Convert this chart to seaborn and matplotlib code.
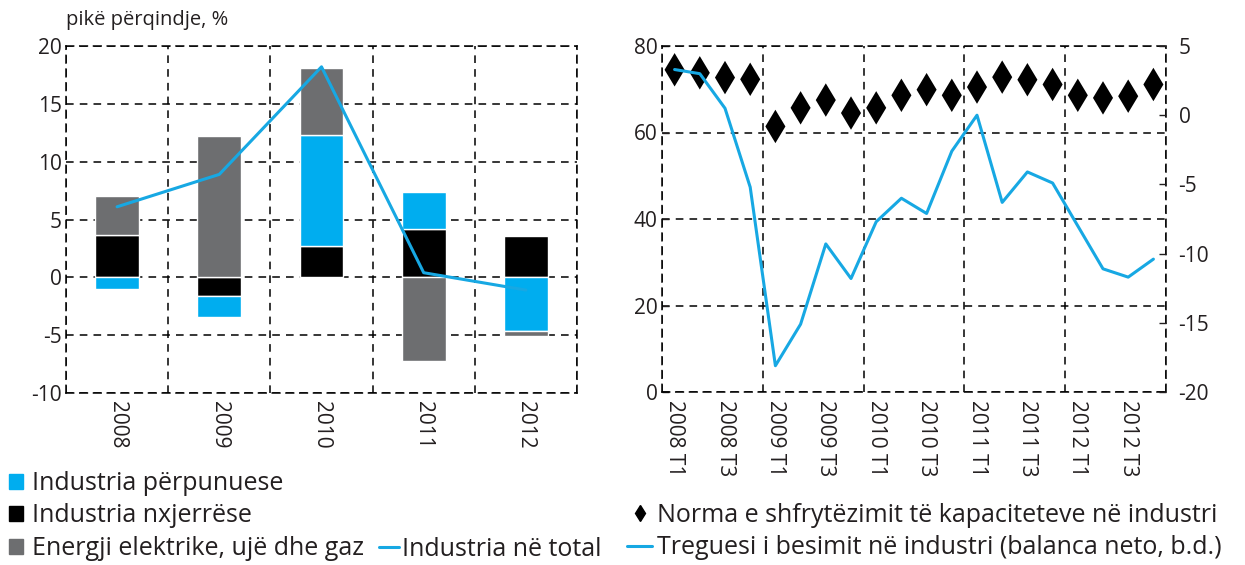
import numpy as np
import pandas as pd
import seaborn as sns
import matplotlib.pyplot as plt
from matplotlib.patches import Patch
from matplotlib.lines import Line2D

# left panel: contributions by sector, percentage points
years = ['2008', '2009', '2010', '2011', '2012']
nxjerrese = [3.7, -1.6, 2.7, 4.2, 3.6]
perpunuese = [-1.0, -1.8, 9.6, 3.2, -4.6]
energji = [3.3, 12.2, 5.8, -7.2, -0.5]
total = [6.1, 8.9, 18.2, 0.4, -1.1]

# right panel: quarterly indicators
quarters = [f'{y} T{q}' for y in range(2008, 2013) for q in range(1, 5)]
norma = [74.5, 73.8, 72.7, 72.3, 61.4, 65.7, 67.5, 64.5, 65.7, 68.6,
         69.9, 68.6, 70.5, 72.8, 72.2, 71.1, 68.6, 68.0, 68.4, 71.1]
treguesi = [3.3, 3.0, 0.5, -5.2, -18.1, -15.1, -9.3, -11.8, -7.7, -6.0,
            -7.1, -2.6, 0.0, -6.3, -4.1, -4.9, -8.0, -11.1, -11.7, -10.4]

BLUE = '#00adef'
GRAY = '#6d6e70'
LINE = '#17a8e3'
TXT = '#231f20'
DASH = (0, (5, 4))

sns.set_style('white')
plt.rcParams['font.family'] = ['Open Sans', 'DejaVu Sans']
plt.rcParams['axes.unicode_minus'] = False
plt.rcParams['text.color'] = TXT
plt.rcParams['xtick.color'] = TXT
plt.rcParams['ytick.color'] = TXT

W, H = 1245, 565
fig = plt.figure(figsize=(W / 100, H / 100), dpi=100)
ax1 = fig.add_axes([66 / W, 1 - 393 / H, (577 - 66) / W, (393 - 46) / H])
ax2 = fig.add_axes([662 / W, 1 - 392 / H, (1166 - 662) / W, (392 - 46) / H])


def frame(ax):
    for sp in ax.spines.values():
        sp.set_visible(True)
        sp.set_linestyle(DASH)
        sp.set_color('black')
        sp.set_linewidth(1.1)
    ax.grid(True, which='major', axis='y', color='black', linestyle=DASH, linewidth=1.1)
    ax.grid(True, which='minor', axis='x', color='black', linestyle=DASH, linewidth=1.1)
    ax.set_axisbelow(True)
    ax.tick_params(axis='x', which='both', length=0, labelsize=15, pad=6)
    ax.tick_params(axis='y', direction='in', length=5, width=1, labelsize=15, pad=3)


# ---- left: stacked bars (positive and negative parts stacked separately)
x = np.arange(len(years))
pos = np.zeros(len(years))
neg = np.zeros(len(years))
for vals, col in [(nxjerrese, 'black'), (perpunuese, BLUE), (energji, GRAY)]:
    v = np.array(vals)
    base = np.where(v >= 0, pos, neg)
    ax1.bar(x, v, bottom=base, width=0.43, color=col, zorder=2)
    pos = pos + np.where(v >= 0, v, 0)
    neg = neg + np.where(v < 0, v, 0)

df_tot = pd.DataFrame({'x': x, 'total': total})
sns.lineplot(data=df_tot, x='x', y='total', ax=ax1, color=LINE, linewidth=2.2, zorder=3)

ax1.set_xlim(-0.5, 4.5)
ax1.set_ylim(-10, 20)
ax1.set_yticks(range(-10, 21, 5))
ax1.set_xticks(x)
ax1.set_xticklabels(years, rotation=-90)
ax1.set_xticks(np.arange(-0.5, 5, 1), minor=True)
ax1.set_xlabel('')
ax1.set_ylabel('')
frame(ax1)
fig.text(66 / W, 1 - 20 / H, 'pikë përqindje, %', fontsize=14.5, va='center', ha='left')

# ---- right: capacity utilisation (left axis) and confidence (right axis)
xq = np.arange(len(quarters))
df_q = pd.DataFrame({'x': xq, 'norma': norma, 'treguesi': treguesi})
sns.scatterplot(data=df_q, x='x', y='norma', ax=ax2, marker='d', s=290,
                color='black', edgecolor='none', zorder=3)
ax2.set_xlim(-0.5, 19.5)
ax2.set_ylim(0, 80)
ax2.set_yticks(range(0, 81, 20))
ax2.set_xticks(xq[::2])
ax2.set_xticklabels(quarters[::2], rotation=-90)
ax2.set_xticks([-0.5, 3.5, 7.5, 11.5, 15.5, 19.5], minor=True)
ax2.set_xlabel('')
ax2.set_ylabel('')
frame(ax2)

ax3 = ax2.twinx()
sns.lineplot(data=df_q, x='x', y='treguesi', ax=ax3, color=LINE, linewidth=2.2)
ax3.set_ylim(-20, 5)
ax3.set_yticks(range(-20, 6, 5))
ax3.set_ylabel('')
for sp in ax3.spines.values():
    sp.set_visible(False)
ax3.tick_params(axis='y', direction='in', length=5, width=1, labelsize=15, pad=9)

# ---- legends
h1 = [Patch(color=BLUE), Patch(color='black'), Patch(color=GRAY)]
l1 = ['Industria përpunuese', 'Industria nxjerrëse', 'Energji elektrike, ujë dhe gaz']
fig.legend(h1, l1, loc='upper left', bbox_to_anchor=(9 / W, 1 - 471 / H), frameon=False,
           fontsize=18, handlelength=0.56, handleheight=0.56, handletextpad=0.35,
           labelspacing=0.3, borderpad=0, borderaxespad=0)
fig.legend([Line2D([], [], color=LINE, linewidth=2.2)], ['Industria në total'],
           loc='center left', bbox_to_anchor=(379 / W, 1 - 549 / H), frameon=False,
           fontsize=18, handlelength=0.8, handletextpad=0.1, borderpad=0, borderaxespad=0)

h2 = [Line2D([], [], marker='d', color='black', linestyle='none', markersize=8),
      Line2D([], [], color=LINE, linewidth=2.2)]
l2 = ['Norma e shfrytëzimit të kapaciteteve në industri',
      'Treguesi i besimit në industri (balanca neto, b.d.)']
fig.legend(h2, l2, loc='upper left', bbox_to_anchor=(627 / W, 1 - 503 / H), frameon=False,
           fontsize=18, handlelength=1.0, handletextpad=0.2, labelspacing=0.3,
           borderpad=0, borderaxespad=0)

fig.savefig('out.png', dpi=100)
